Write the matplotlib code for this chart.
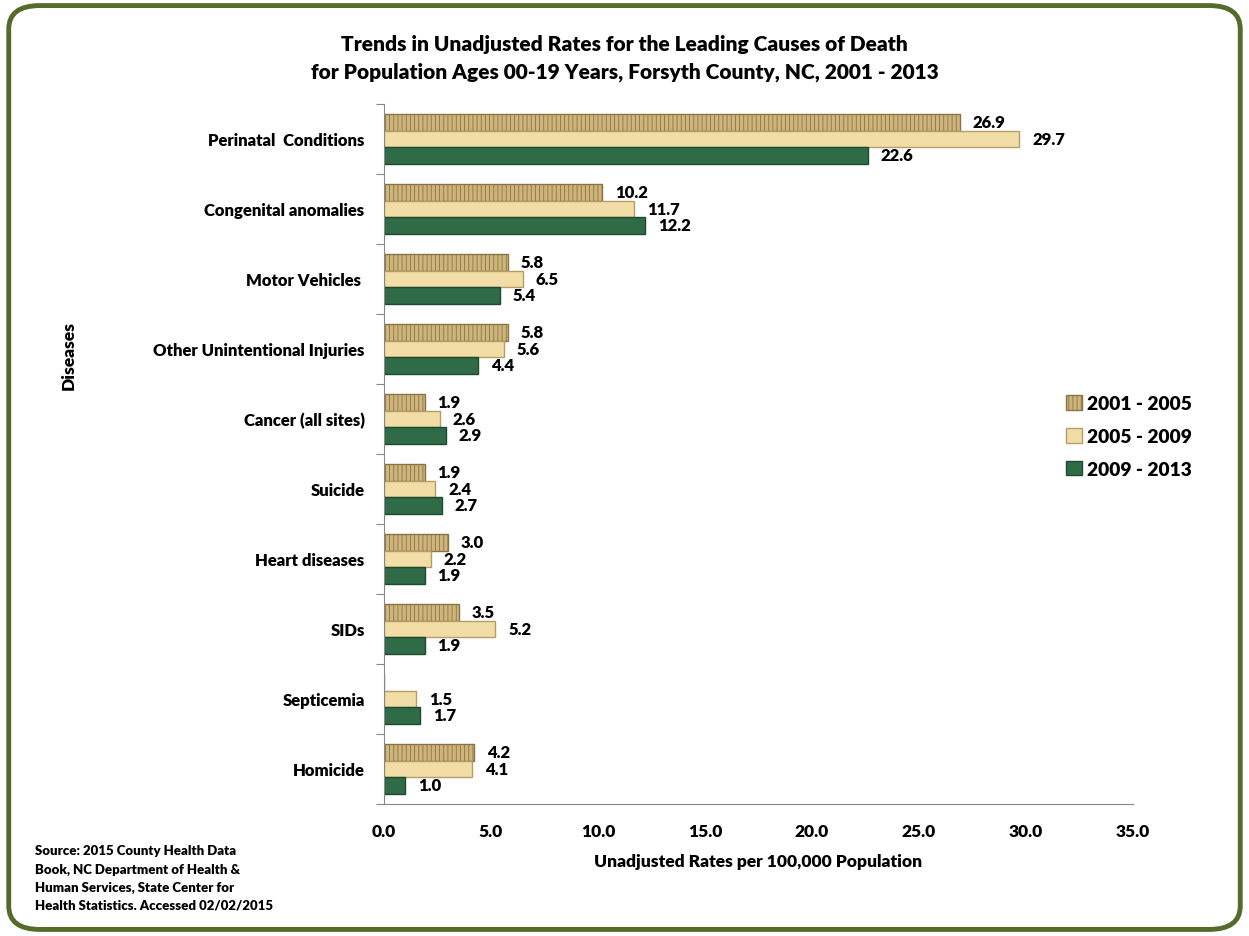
import numpy as np
import matplotlib.pyplot as plt
from matplotlib.patches import FancyBboxPatch

plt.rcParams['font.family'] = ['Lato', 'DejaVu Sans']
plt.rcParams['font.weight'] = 'heavy'
plt.rcParams['hatch.color'] = "#9A7F45"
plt.rcParams['hatch.linewidth'] = 0.6

# data, top to bottom as in the chart
causes = ["Perinatal  Conditions", "Congenital anomalies", "Motor Vehicles ",
          "Other Unintentional Injuries", "Cancer (all sites)", "Suicide",
          "Heart diseases", "SIDs", "Septicemia", "Homicide"]
periods = ["2001 - 2005", "2005 - 2009", "2009 - 2013"]
rate_0105 = [26.9, 10.2, 5.8, 5.8, 1.9, 1.9, 3.0, 3.5, None, 4.2]
rate_0509 = [29.7, 11.7, 6.5, 5.6, 2.6, 2.4, 2.2, 5.2, 1.5, 4.1]
rate_0913 = [22.6, 12.2, 5.4, 4.4, 2.9, 2.7, 1.9, 1.9, 1.7, 1.0]
x_ticks = [0, 5, 10, 15, 20, 25, 30, 35]

series = [rate_0105, rate_0509, rate_0913]
colors = ["#CDB57C", "#F2DDA6", "#2F6B47"]
edges = ["#8A7444", "#B59E66", "#1F4A30"]
hatches = ["||||", None, None]
W = "heavy"

fig = plt.figure(figsize=(12.49, 9.37), dpi=100)
ax = fig.add_axes([0.3075, 0.141, 0.5995, 0.747])

y = np.arange(len(causes))
h = 0.235
offsets = [-h, 0, h]
for vals, off, c, ec, ht, lab in zip(series, offsets, colors, edges, hatches, periods):
    v = np.array([np.nan if a is None else a for a in vals], dtype=float)
    ax.barh(y + off, np.nan_to_num(v), height=h, color=c, edgecolor=ec,
            linewidth=1.0, hatch=ht, label=lab)
    for yy, val in zip(y + off, v):
        if np.isnan(val):
            continue
        ax.text(val + 0.6, yy, f"{val:.1f}", va="center", ha="left",
                fontsize=12, fontweight=W)

ax.set_ylim(len(causes) - 0.5, -0.5)
ax.set_xlim(0, 35)
ax.set_xticks(x_ticks)
ax.set_xticklabels([f"{t:.1f}" for t in x_ticks], fontsize=12.5, fontweight=W)
ax.tick_params(axis="x", length=0, pad=14)

ax.set_yticks(np.arange(len(causes) + 1) - 0.5)
ax.set_yticklabels([])
ax.set_yticks(y, minor=True)
ax.set_yticklabels(causes, minor=True, fontsize=12, fontweight=W)
ax.tick_params(axis="y", which="major", length=6, color="#888888")
ax.tick_params(axis="y", which="minor", length=0, pad=14)

for s in ["top", "right"]:
    ax.spines[s].set_visible(False)
ax.spines["left"].set_color("#888888")
ax.spines["bottom"].set_color("#888888")

ax.set_xlabel("Unadjusted Rates per 100,000 Population", fontsize=12.5,
              fontweight=W, labelpad=10)
fig.text(0.055, 0.621, "Diseases", rotation=90, fontsize=12.5, fontweight=W,
         va="center", ha="center")

fig.text(0.5, 0.952, "Trends in Unadjusted Rates for the Leading Causes of Death",
         ha="center", va="center", fontsize=15, fontweight=W)
fig.text(0.5, 0.923, "for Population Ages 00-19 Years, Forsyth County, NC, 2001 - 2013",
         ha="center", va="center", fontsize=15, fontweight=W)

fig.text(0.028, 0.027,
         "Source: 2015 County Health Data\nBook, NC Department of Health &\n"
         "Human Services, State Center for\nHealth Statistics. Accessed 02/02/2015",
         fontsize=9.5, fontweight=W, va="bottom", ha="left", linespacing=1.6)

ax.legend(loc="center left", bbox_to_anchor=(0.888, 0.525), frameon=False,
          prop={"size": 13.8, "weight": W}, handlelength=0.8, handleheight=0.8,
          handletextpad=0.3, labelspacing=0.82)

border = FancyBboxPatch((0.007, 0.007), 0.986, 0.986, transform=fig.transFigure,
                        boxstyle="round,pad=0,rounding_size=0.025",
                        fill=False, edgecolor="#546B2A", linewidth=3.5)
fig.patches.append(border)

fig.savefig("out.png", dpi=100)
